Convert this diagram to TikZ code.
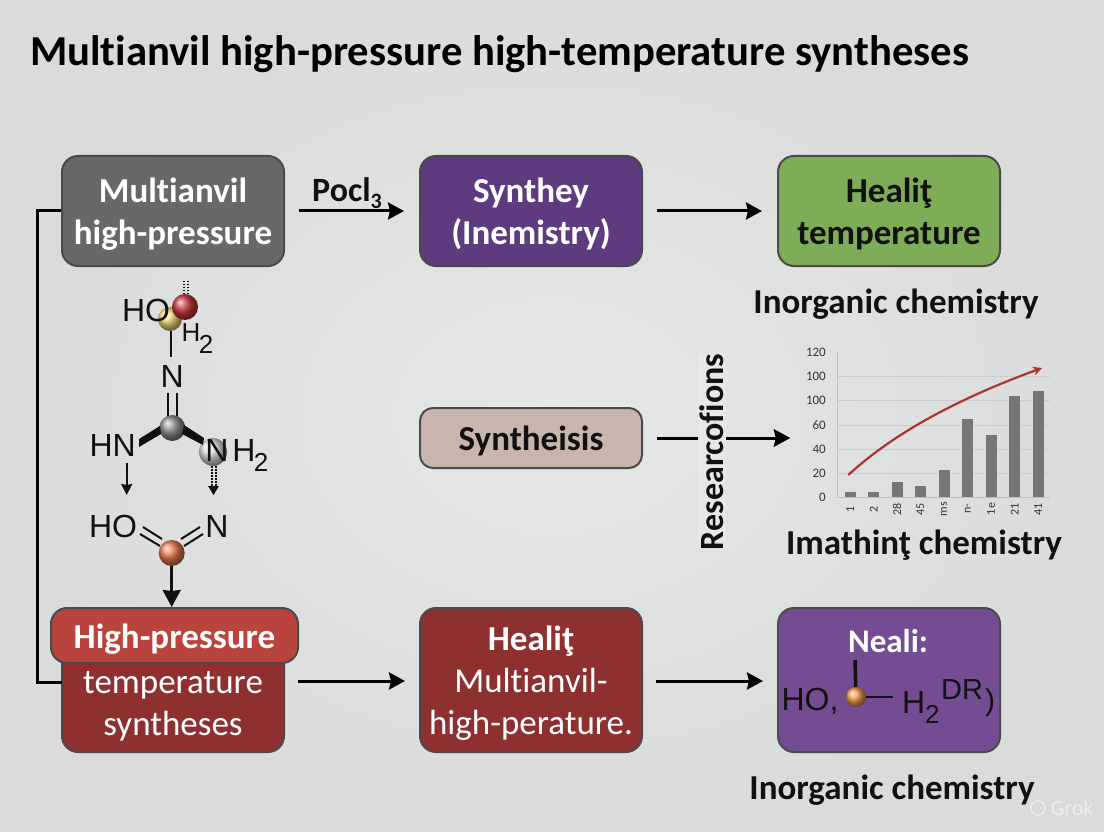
\documentclass[tikz,border=0pt]{standalone}
\usepackage{fontspec}
\setmainfont[Ligatures=NoCommon]{Carlito}
\newfontfamily\molfont{Liberation Sans}
\usetikzlibrary{arrows.meta,shadings}
\definecolor{bgc}{HTML}{E6E7E7}
\definecolor{bgo}{HTML}{DADBDB}
\definecolor{ink}{HTML}{111111}
\definecolor{edge}{HTML}{4A4A4A}
\definecolor{grayb}{HTML}{686868}
\definecolor{purpled}{HTML}{5E3B7F}
\definecolor{greenb}{HTML}{7FAC56}
\definecolor{tanb}{HTML}{C8B5AC}
\definecolor{redd}{HTML}{8F3030}
\definecolor{redh}{HTML}{B9443D}
\definecolor{purplel}{HTML}{744C94}
\definecolor{barc}{HTML}{767676}
\definecolor{curve}{HTML}{A93434}
\definecolor{ballred}{HTML}{C8383C}
\definecolor{ballyel}{HTML}{F6DC7C}
\definecolor{ballgray}{HTML}{909090}
\definecolor{ballpale}{HTML}{E2E2E2}
\definecolor{ballorg}{HTML}{EA7C50}
\definecolor{ballorl}{HTML}{F8A050}
\newcommand{\fs}[1]{\fontsize{#1}{#1}\selectfont}
\newcommand{\dn}{\rule{0pt}{31pt}}
\tikzset{
  x=1pt,y=-1pt,
  box/.style={draw=edge,line width=2pt,rounded corners=16pt,minimum width=222pt,inner sep=0pt,align=center,text=white,font=\fontsize{35}{42}\selectfont},
  caption/.style={text=ink,font=\bfseries\fs{35},inner sep=0pt},
  flow/.style={line width=3pt,-{Stealth[length=16pt,width=17pt,inset=2pt]},shorten <=14pt,shorten >=15pt},
  atom/.style={font=\molfont\fs{32},text=ink,inner sep=0pt},
  ball/.style={circle,shading=ball,inner sep=0pt},
  bond/.style={line width=2pt,ink},
  thin arrow/.style={line width=2pt,ink,-{Stealth[length=11pt,width=11pt,inset=1pt]}},
  dots/.style={line width=2pt,ink,dash pattern=on 1.5pt off 1.5pt},
  ticklab/.style={text=ink!85,font=\fs{13},inner sep=0pt},
}
\begin{document}
\begin{tikzpicture}
\useasboundingbox (0,0) rectangle (1104,832);
\shade[inner color=bgc,outer color=bgo] (0,0) rectangle (1104,832);

% title
\node[anchor=west,text=black,inner sep=0pt,font=\bfseries\fs{42.7}] (title) at (30,54) {Multianvil high-pressure high-temperature syntheses};

% top row
\node[box,fill=grayb,minimum height=110pt] (b1) at (173,211) {\dn\bfseries Multianvil\\\bfseries high-pressure};
\node[box,fill=purpled,minimum height=110pt] (b2) at (531,211) {\dn\bfseries Synthey\\\bfseries (Inemistry)};
\node[box,fill=greenb,minimum height=110pt,text=ink] (b3) at (889,211) {\dn\bfseries Healiţ\\\bfseries temperature};
\node[caption] (c1) at (896,304) {Inorganic chemistry};
\node[text=ink,inner sep=0pt,font=\bfseries\fs{34}] (pocl) at (347,193) {Pocl\raisebox{-.22em}{\fs{22}3}};

% middle row
\node[box,fill=tanb,minimum height=60pt,text=ink,rounded corners=13pt] (b4) at (531,438) {\dn\bfseries Syntheisis};
\coordinate (chartin) at (805,438);
\draw[flow] (b4.east) -- (chartin);
\node[fill=bgc,inner sep=0pt,minimum height=28pt,text=ink,font=\bfseries\fs{34},rotate=90] (res) at (712,452) {Researcofions};
\draw[line width=3pt,-{Stealth[length=16pt,width=17pt,inset=2pt]}] (728,438) -- (790,438);

% bottom row
\node[box,fill=redd,minimum height=124pt] (b5) at (173,690) {};
\node[box,fill=redh,minimum width=247pt,minimum height=55pt,text=white] (b5h) at (174.5,635.5) {\dn\bfseries High-pressure};
\node[text=white,align=center,inner sep=0pt,font=\fontsize{35}{42}\selectfont] (b5t) at (173,706) {temperature\\syntheses};
\node[box,fill=redd,minimum height=144pt] (b6) at (531,680) {\dn\bfseries Healiţ\\Multianvil-\\high-perature.};
\node[box,fill=purplel,minimum height=144pt] (b7) at (889,680) {};
\node[text=white,inner sep=0pt,font=\bfseries\fs{33}] (b7t) at (888,641) {Neali:};
\node[caption] (c3) at (892,790) {Inorganic chemistry};

% flows
\draw[flow] (b1.east) -- (b2.west);
\draw[flow] (b2.east) -- (b3.west);
\coordinate (b5e) at (284,681);
\coordinate (b6w) at (420,681);
\coordinate (b6e) at (642,681);
\coordinate (b7w) at (778,681);
\draw[flow] (b5e) -- (b6w);
\draw[flow] (b6e) -- (b7w);
\coordinate (f2) at (62,682);
\draw[line width=3pt,black] (b1.west) -- (37,211) -- (37,682) -- (f2);

% molecule
\node[ball,ball color=ballyel,minimum size=24pt] (y1) at (170,319) {};
\node[ball,ball color=ballred,minimum size=26pt] (r1) at (185,307) {};
\node[atom] (ho1) at (146,310) {HO};
\draw[dots] (184,294) -- (184,280);
\draw[dots] (188,294) -- (188,280);
\node[atom,font=\molfont\fs{26}] (h2a) at (191,333) {H};
\node[atom,font=\molfont\fs{26}] (h2b) at (206,344) {2};
\node[atom] (n1) at (172.3,376) {N};
\draw[bond] (171,331) -- (171,357);
\node[ball,ball color=ballgray,minimum size=26pt] (c1b) at (172.3,428) {};
\draw[bond] (168.3,392.7) -- (168.3,416);
\draw[bond] (176.7,392.7) -- (176.7,416);
\node[atom] (hn) at (112.7,445) {HN};
\node[ball,ball color=ballpale,minimum size=28pt] (p1) at (213,452) {};
\node[atom] (nh) at (217,450) {N};
\node[atom] (nhh) at (244,450) {H};
\node[atom,font=\molfont\fs{26}] (nh2s) at (261,462) {2};
\fill[ink] (139,439) -- (139,447) -- (161,434) -- (160,426) -- cycle;
\fill[ink] (184,425) -- (182,434) -- (203,445) -- (204,438) -- cycle;
\coordinate (a1e) at (126.7,495);
\draw[thin arrow] (126.7,463) -- (a1e);
\draw[dots] (211.5,466) -- (211.5,486);
\draw[dots] (215.5,466) -- (215.5,486);
\fill[ink] (208,486) -- (219,486) -- (213.5,495) -- cycle;
\node[atom] (ho2) at (113,526) {HO};
\node[atom] (n2) at (217,526) {N};
\node[ball,ball color=ballorg,minimum size=26pt] (o1) at (171.7,553) {};
\draw[bond] (143,527) -- (162,539);
\draw[bond] (140,534) -- (160,546);
\draw[bond] (200,527) -- (181,539);
\draw[bond] (203,534) -- (184,546);
\draw[line width=2.5pt,ink,-{Stealth[length=17pt,width=18pt,inset=1pt]}] (o1) -- (b5h.north -| o1);

% chart
\foreach \y in {376,400,425,449,473} \draw[black!20,line width=.8pt] (837,\y) -- (1050,\y);
\draw[black!25,line width=.8pt] (837,352) -- (837,497) -- (1050,497);
\foreach \lab/\y in {120/352,100/376,100/400,60/425,40/449,20/473,0/497}
  \node[ticklab,anchor=east] at (826,\y) {\lab};
\foreach \xx/\top in {850.3/492,873.7/492.3,897/482.3,920.3/486,944/470,967.7/419.3,991/435.3,1014.7/396.3,1038.3/390.7}
  \fill[barc] (\xx-5.5,\top) rectangle (\xx+5.5,497);
\foreach \xx/\lab in {850.3/1,873.7/2,897/28,920.3/45,944/ms,967.7/n-,991/1e,1014.7/21,1038.3/41}
  \node[ticklab,rotate=90,font=\fs{12}] at (\xx,509) {\lab};
\draw[curve,line width=2.2pt,-{Stealth[length=9pt,width=9pt]}] (848.3,475) .. controls (895,432) and (960,398) .. (1042,368);
\node[text=ink,inner sep=0pt,font=\bfseries\fs{35}] (c2) at (924,545) {Imathinţ chemistry};

% box molecule
\coordinate (m3) at (855,660);
\coordinate (m8) at (893,697);
\draw[line width=3.5pt,ink] (856,697) -- (m3);
\draw[line width=1.5pt,ink] (856,697) -- (m8);
\node[atom,font=\molfont\fs{32}] (m1) at (810,701) {HO,};
\node[ball,ball color=ballorl,minimum size=20pt] (m2) at (856,697) {};
\node[atom,font=\molfont\fs{32},anchor=west] (m4) at (902,702) {H};
\node[atom,font=\molfont\fs{26},anchor=west] (m5) at (925,714) {2};
\node[atom,font=\molfont\fs{29},anchor=west] (m6) at (941,690) {DR};
\node[atom,font=\molfont\fs{30},anchor=west] (m7) at (985,703) {)};

% watermark
\node[draw=white!30!bgc,line width=1.5pt,circle,minimum size=14pt,inner sep=0pt] (wi) at (1038,808) {};
\node[text=white!30!bgc,inner sep=0pt,font=\fs{22}] (wm) at (1072,808) {Grok};
\end{tikzpicture}
\end{document}
